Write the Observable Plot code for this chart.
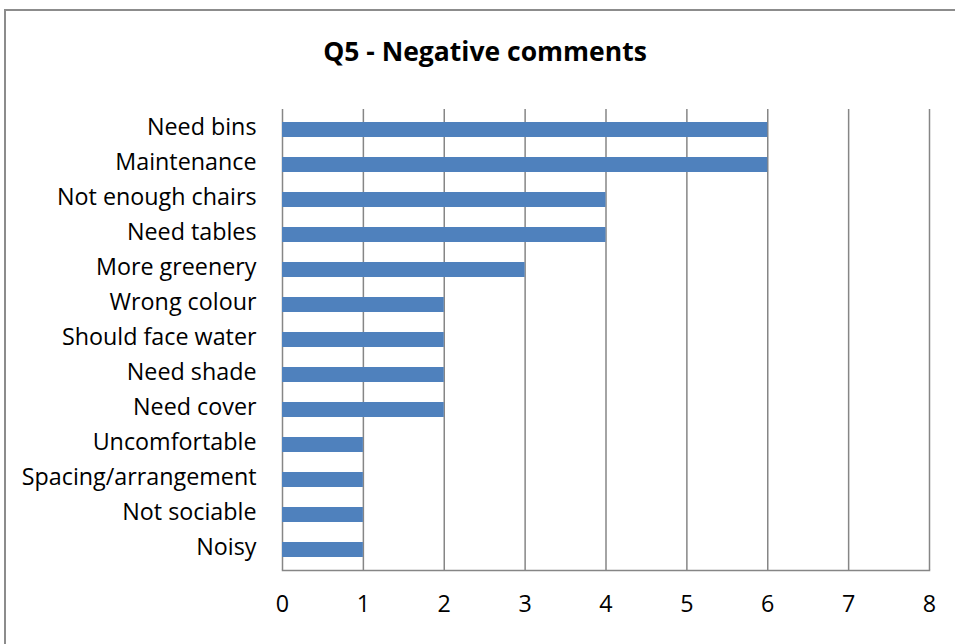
<!DOCTYPE html>
<html>
<head>
<meta charset="utf-8">
<script src="https://cdn.jsdelivr.net/npm/d3@7"></script>
<script src="https://cdn.jsdelivr.net/npm/@observablehq/plot@0.6"></script>
<style>
  html, body { margin: 0; padding: 0; background: #fff; overflow: hidden; width: 955px; height: 644px; }
  #wrap { position: relative; width: 955px; height: 644px; }
  #border { position: absolute; left: 4px; top: 9px; width: 1000px; height: 700px; border: 2px solid #8c8c8c; box-sizing: border-box; }
  #title { position: absolute; left: 0; width: 970px; top: 38px; text-align: center; font-family: "Open Sans", sans-serif; font-weight: bold; font-size: 26.5px; color: #000; line-height: 1; }
  #chart { position: absolute; left: 0; top: 0; }
</style>
</head>
<body>
<div id="wrap">
  <div id="border"></div>
  <div id="title">Q5 - Negative comments</div>
  <div id="chart"></div>
</div>
<script>
const categories = ["Need bins","Maintenance","Not enough chairs","Need tables","More greenery","Wrong colour","Should face water","Need shade","Need cover","Uncomfortable","Spacing/arrangement","Not sociable","Noisy"];
const counts = [6,6,4,4,3,2,2,2,2,1,1,1,1];
const xTicks = [0,1,2,3,4,5,6,7,8];

const data = categories.map((c, i) => ({category: c, count: counts[i]}));
const gray = "#868686";

const plot = Plot.plot({
  width: 955,
  height: 644,
  marginTop: 109,
  marginBottom: 74,
  marginLeft: 282,
  marginRight: 26,
  style: {fontFamily: "Open Sans, sans-serif", fontSize: "23.3px", color: "#000", background: "transparent"},
  x: {domain: [0, 8], ticks: xTicks, label: null},
  y: {domain: categories, paddingInner: 0.58, paddingOuter: 0.29, label: null},
  marks: [
    Plot.gridX(xTicks, {stroke: gray, strokeOpacity: 1, strokeWidth: 1.5}),
    Plot.frame({anchor: "bottom", stroke: gray, strokeWidth: 1.5}),
    Plot.barX(data, {x: "count", y: "category", fill: "#4F81BD", inset: 0}),
    Plot.axisX(xTicks, {tickSize: 0, tickPadding: 25, fontSize: 23.3, label: null}),
    Plot.axisY({tickSize: 0, tickPadding: 26, fontSize: 23.3, label: null, dy: -2})
  ]
});
document.getElementById("chart").appendChild(plot);
</script>
</body>
</html>
